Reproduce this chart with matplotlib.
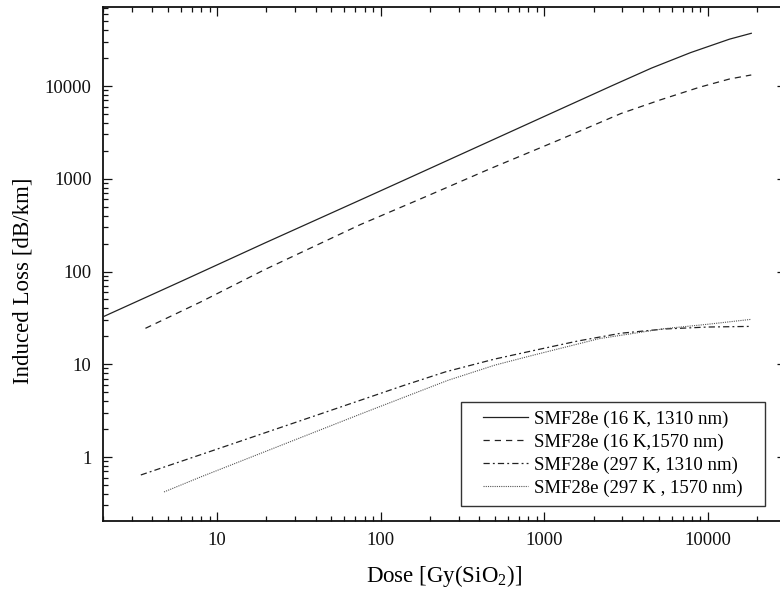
import matplotlib
matplotlib.use("Agg")
import matplotlib.pyplot as plt
from matplotlib.patches import Rectangle

plt.rcParams['font.family'] = ['Liberation Serif', 'DejaVu Serif']
plt.rcParams['mathtext.fontset'] = 'custom'
plt.rcParams['mathtext.rm'] = 'Liberation Serif'

# Dose [Gy] and induced loss [dB/km]
dose_16k_1310 = [2.05, 6.1, 19.6, 75, 138, 1000, 2600, 4520, 7830, 13550, 18400]
loss_16k_1310 = [33, 79, 203, 590, 960, 4700, 10100, 15600, 22900, 32000, 37000]

dose_16k_1570 = [3.65, 7.95, 19.6, 75, 188, 470, 1250, 2940, 5100, 8850, 13550, 18400]
loss_16k_1570 = [24.4, 47, 105, 320, 640, 1290, 2650, 5050, 7070, 9680, 11900, 13150]

dose_297k_1310 = [3.42, 7.95, 40.8, 138, 250, 500, 867, 1600, 2940, 5420, 10000, 18400]
loss_297k_1310 = [0.64, 1.06, 2.83, 5.9, 8.3, 11.4, 14.1, 17.8, 21.6, 24.0, 25.2, 25.6]

dose_297k_1570 = [4.74, 7.95, 75.9, 257, 500, 867, 2170, 5420, 10000, 18400]
loss_297k_1570 = [0.42, 0.61, 2.92, 6.7, 9.8, 12.6, 18.9, 24.2, 27.0, 30.5]

labels = ['SMF28e (16 K, 1310 nm)', 'SMF28e (16 K,1570 nm)',
          'SMF28e (297 K, 1310 nm)', 'SMF28e (297 K , 1570 nm)']

fig = plt.figure(figsize=(7.8, 5.92), dpi=100)
W, H = 780.0, 592.0
ax = fig.add_axes([102.7/W, (H-521)/H, 683.3/W, 514.3/H])

ax.plot(dose_16k_1310, loss_16k_1310, color='#222222', lw=0.9, ls='-', label=labels[0])
ax.plot(dose_16k_1570, loss_16k_1570, color='#222222', lw=0.9, ls=(0, (5, 4)), label=labels[1])
ax.plot(dose_297k_1310, loss_297k_1310, color='#222222', lw=0.9, ls=(0, (5, 2.5, 1.5, 2.5)), label=labels[2])
ax.plot(dose_297k_1570, loss_297k_1570, color='#555555', lw=0.8, ls=(0, (1, 1)), label=labels[3])

ax.set_xscale('log')
ax.set_yscale('log')
ax.set_xlim(2, 30000)
ax.set_ylim(10**-0.69, 10**4.855)

ax.set_xticks([10, 100, 1000, 10000])
ax.set_xticklabels(['10', '100', '1000', '10000'])
ax.set_yticks([1, 10, 100, 1000, 10000])
ax.set_yticklabels(['1', '10', '100', '1000', '10000'])

ax.tick_params(which='both', direction='in', top=True, right=True, width=0.9, colors='#111111')
ax.tick_params(which='major', length=6.7, pad=8, labelsize=13.5)
ax.tick_params(which='minor', length=3.4)
ax.tick_params(axis='y', which='minor', right=False)
for sp in ax.spines.values():
    sp.set_linewidth(1.3)
    sp.set_color('#111111')

ax.set_xlabel(r'Dose [Gy(SiO$_\mathregular{2}$)]', fontsize=16.5)
ax.set_ylabel('Induced Loss [dB/km]', fontsize=16.5)
ax.xaxis.set_label_coords(0.5, -0.082)
ax.yaxis.set_label_coords(-0.101, 0.467)

leg = ax.legend(loc='center', bbox_to_anchor=(0.7468, 0.1306), frameon=False,
                fontsize=13.5, handlelength=2.4, handletextpad=0.3,
                labelspacing=0.3, borderpad=0)
ax.add_patch(Rectangle((0.5244, 0.0292), 0.4449, 0.2028, transform=ax.transAxes,
                       fill=False, lw=1.0, ec='#333333', zorder=5))

fig.savefig('out.png', dpi=100)
